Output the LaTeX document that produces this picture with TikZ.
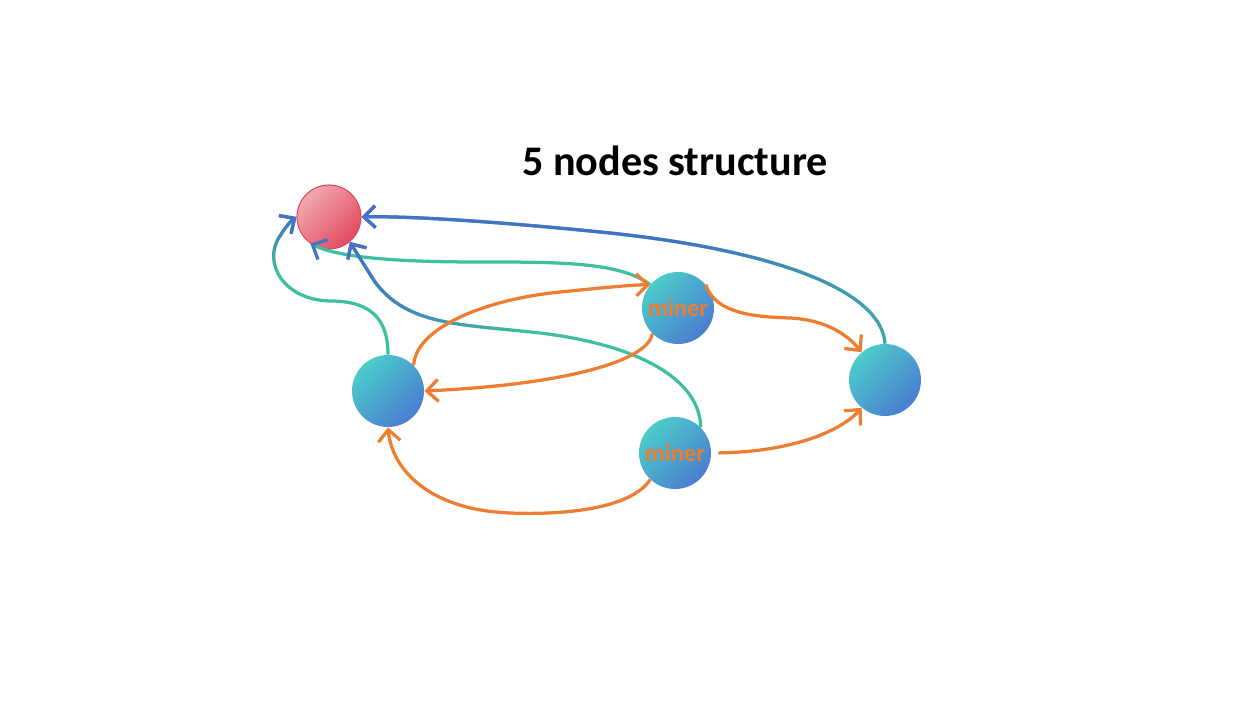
\documentclass[tikz,border=0pt]{standalone}
\usepackage{fontspec}
\setmainfont{Carlito}
\usetikzlibrary{arrows.meta,fadings}
\definecolor{ored}{HTML}{ED7D31}
\definecolor{lgreen}{HTML}{3EC09E}
\definecolor{lblue}{HTML}{4472C4}
\definecolor{cteal}{HTML}{4CCBCA}
\definecolor{cblue}{HTML}{4A7DD1}
\definecolor{rlight}{HTML}{F2A9B1}
\definecolor{rdark}{HTML}{E14A5E}
\definecolor{rborder}{HTML}{D9475A}
% fadings: white = opaque, black = transparent
\pgfdeclarehorizontalshading{fsLeftA}{100bp}{color(0bp)=(white); color(55bp)=(white); color(85bp)=(black); color(100bp)=(black)}
\pgfdeclarefading{fadeLeftA}{\pgfuseshading{fsLeftA}}
\pgfdeclarehorizontalshading{fsLeftB}{100bp}{color(0bp)=(white); color(25bp)=(white); color(50bp)=(black); color(100bp)=(black)}
\pgfdeclarefading{fadeLeftB}{\pgfuseshading{fsLeftB}}
\pgfdeclareverticalshading{fsTop}{100bp}{color(0bp)=(black); color(55bp)=(black); color(75bp)=(white); color(100bp)=(white)}
\pgfdeclarefading{fadeTop}{\pgfuseshading{fsTop}}
\tikzset{
  peer/.style={circle, minimum size=1.44cm, inner sep=0pt, top color=cteal, bottom color=cblue, shading angle=45},
  rootnode/.style={circle, minimum size=1.28cm, inner sep=0pt, draw=rborder, line width=0.6pt, top color=rlight, bottom color=rdark, shading angle=45},
  minerlabel/.style={font=\fontsize{14}{15}\selectfont\bfseries, text=ored},
  tip/.style={-{Straight Barb[length=2.3mm,width=4.4mm,#1]}},
  edge/.style={line width=1.85pt},
  oedge/.style={edge, draw=ored, tip={}},
  gedge/.style={edge, draw=lgreen, tip={color=lblue}},
}
\begin{document}
\begin{tikzpicture}[x=0.02cm, y=-0.02cm]
\useasboundingbox[fill=white] (0,0) rectangle (1258,702);

\node[font=\fontsize{24}{28}\selectfont\bfseries] (title) at (675,161) {5 nodes structure};

\node[rootnode] (R) at (329,217) {};
\node[peer] (A) at (388,391) {};
\node[peer] (M1) at (678,308) {};
\node[peer] (M2) at (675,453) {};
\node[peer] (B) at (885,380) {};
\node[minerlabel] (m1t) at (M1) {miner};
\node[minerlabel] (m2t) at (M2) {miner};

% green/blue edges into the root
\draw[gedge, postaction={draw=lblue, path fading=fadeTop}]
  (A.north) .. controls (388,318) and (370,301) .. (330,301)
  .. controls (283,300) and (262,262) .. (280,236)
  .. controls (286,226) and (292,220) .. (R.west);
\draw[gedge] (M1.140) .. controls (620,262) and (560,262) .. (480,262)
  .. controls (400,262) and (340,258) .. (R.235);
\draw[gedge, postaction={draw=lblue, path fading=fadeLeftA}]
  (B.north) .. controls (882,292) and (780,250) .. (600,232)
  .. controls (480,220) and (400,216) .. (R.east);
\draw[gedge, postaction={draw=lblue, path fading=fadeLeftB}]
  (M2.45) .. controls (700,380) and (640,345) .. (540,333)
  .. controls (460,324) and (408,326) .. (375,282)
  .. controls (366,268) and (358,255) .. (R.-50);

% orange edges
\draw[oedge] (A.45) .. controls (415,330) and (480,300) .. (560,292)
  .. controls (600,288) and (630,285) .. (M1.140);
\draw[oedge] (M1.225) .. controls (648,362) and (560,385) .. (A.east);
\draw[oedge] (M1.40) .. controls (715,315) and (760,317) .. (790,318)
  .. controls (830,320) and (850,338) .. (B.130);
\draw[oedge, shorten <=4pt] (M2.east) .. controls (790,452) and (840,432) .. (B.230);
\draw[oedge] (M2.227) .. controls (630,510) and (560,515) .. (510,513)
  .. controls (430,510) and (392,470) .. (A.south);
\end{tikzpicture}
\end{document}
